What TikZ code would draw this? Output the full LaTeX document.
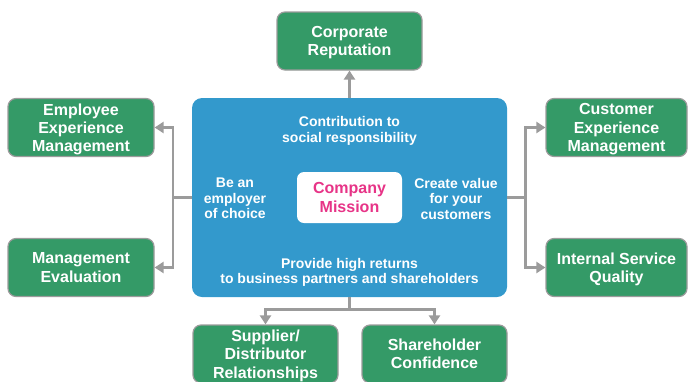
\documentclass[tikz,border=0pt]{standalone}
\usepackage{fontspec}
\setmainfont{Liberation Sans}
\usepackage{tikz}
\usetikzlibrary{arrows.meta, calc, positioning}
\usepackage{xcolor}
\definecolor{goalgreen}{RGB}{52,154,103}
\definecolor{coreblue}{RGB}{51,153,204}
\definecolor{missionpink}{RGB}{231,52,135}
\definecolor{linkgray}{RGB}{155,155,155}

\begin{document}
\begin{tikzpicture}[x=1pt, y=-1pt,
    goal/.style={draw=linkgray, line width=1.2pt, fill=goalgreen, rounded corners=8pt,
        text=white, font=\bfseries\fontsize{16}{18.2}\selectfont, align=center, text depth=0pt,
        minimum width=145pt, minimum height=58pt, inner sep=0pt},
    aim/.style={text=white, font=\bfseries\fontsize{14}{15.5}\selectfont, align=center, text depth=0pt, inner sep=0pt},
    link/.style={draw=linkgray, line width=2.6pt},
    linkto/.style={link, -{Triangle[length=9pt, width=11pt]}}]
    \useasboundingbox (0, 0) rectangle (688, 381);

    % 中心：使命框
    \node[fill=coreblue, rounded corners=10pt, minimum width=315pt, minimum height=199pt] (core) at (349.5, 197.5) {};
    \node[fill=white, rounded corners=7pt, minimum width=105pt, minimum height=51pt, inner sep=0pt, text depth=0pt,
        text=missionpink, font=\bfseries\fontsize{16}{19}\selectfont, align=center] (mission) at (349.5, 197.5) {Company\\Mission};

    % 四个方向的目标
    \node[aim] (social) at (349.5, 129.5) {Contribution to\\social responsibility};
    \node[aim] (employer) at (235, 198.5) {Be an\\employer\\of choice};
    \node[aim] (value) at (456, 198.5) {Create value\\for your\\customers};
    \node[aim] (returns) at (349.5, 271) {Provide high returns\\to business partners and shareholders};

    % 外围结果
    \node[goal] (reputation) at (349.5, 41) {Corporate\\Reputation};
    \node[goal, minimum width=146pt] (employee) at (81, 127.5) {Employee\\Experience\\Management};
    \node[goal, minimum width=146pt] (evaluation) at (81, 267.5) {Management\\Evaluation};
    \node[goal, minimum width=141pt] (customer) at (616.5, 127.5) {Customer\\Experience\\Management};
    \node[goal, minimum width=141pt] (service) at (616.5, 267.5) {Internal Service\\Quality};
    \node[goal] (supplier) at (265.5, 354) {Supplier/\\Distributor\\Relationships};
    \node[goal] (shareholder) at (434.5, 354) {Shareholder\\Confidence};

    % 连线
    \coordinate (leftjoint) at ($(core.west) + (-19, 0)$);
    \coordinate (rightjoint) at ($(core.east) + (18, 0)$);
    \coordinate (bottomjoint) at ($(core.south) + (0, 12)$);

    \draw[linkto] (core.north) -- (reputation.south);
    \draw[link] (core.west) -- (leftjoint);
    \draw[linkto] (leftjoint) |- (employee.east);
    \draw[linkto] (leftjoint) |- (evaluation.east);
    \draw[link] (core.east) -- (rightjoint);
    \draw[linkto] (rightjoint) |- (customer.west);
    \draw[linkto] (rightjoint) |- (service.west);
    \draw[link] (core.south) -- (bottomjoint);
    \draw[linkto] (bottomjoint) -| (supplier.north);
    \draw[linkto] (bottomjoint) -| (shareholder.north);
\end{tikzpicture}
\end{document}
